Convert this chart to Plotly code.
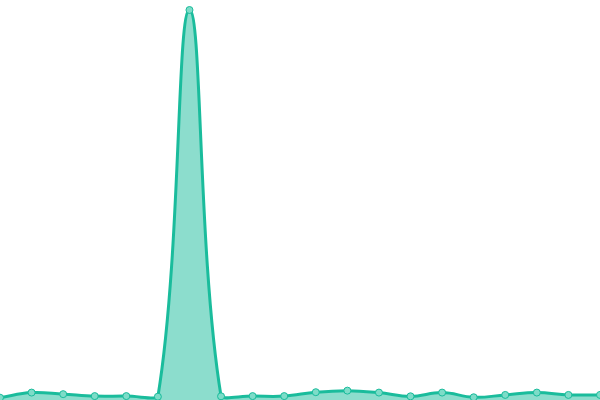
import math

import plotly.graph_objects as go

# x positions are just sample indices, the reference has no visible axes
sample_index = list(range(20))
signal_values = [0.6, 1.9, 1.5, 1.0, 1.0, 0.85, 100.0, 0.95, 1.0, 1.0,
                 2.0, 2.4, 1.9, 0.95, 1.9, 0.7, 1.3, 1.9, 1.3, 1.3]

line_color = "#1abc9c"
fill_color = "rgba(26, 188, 156, 0.5)"
WIDTH, HEIGHT = 600, 400
X_RANGE = [0, 19]
Y_RANGE = [0, 100 / 0.975]
TENSION = 0.4


def smooth_path(xs, ys, closed=False):
    # cardinal-style bezier (same idea as chart.js tension), worked out in
    # pixel space so the curve bulges the same way, then mapped back to data
    kx = WIDTH / (X_RANGE[1] - X_RANGE[0])
    ky = HEIGHT / (Y_RANGE[1] - Y_RANGE[0])
    pts = [(x * kx, y * ky) for x, y in zip(xs, ys)]
    n = len(pts)
    ctrl = []
    for i in range(n):
        prev = pts[max(i - 1, 0)]
        cur = pts[i]
        nxt = pts[min(i + 1, n - 1)]
        d01 = math.dist(prev, cur)
        d12 = math.dist(cur, nxt)
        total = d01 + d12
        fa = TENSION * d01 / total if total else 0
        fb = TENSION * d12 / total if total else 0
        dx, dy = nxt[0] - prev[0], nxt[1] - prev[1]
        ctrl.append(((cur[0] - fa * dx, cur[1] - fa * dy),
                     (cur[0] + fb * dx, cur[1] + fb * dy)))

    def to_data(p):
        return f"{p[0] / kx:.4f},{max(p[1], 0) / ky:.4f}"

    path = "M " + to_data(pts[0])
    for i in range(1, n):
        path += (" C " + to_data(ctrl[i - 1][1]) + " " + to_data(ctrl[i][0])
                 + " " + to_data(pts[i]))
    if closed:
        path += f" L {xs[-1]},0 L {xs[0]},0 Z"
    return path


fig = go.Figure()

# area under the curve, then the curve itself
fig.add_shape(
    type="path",
    path=smooth_path(sample_index, signal_values, closed=True),
    xref="x",
    yref="y",
    fillcolor=fill_color,
    line=dict(width=0),
    layer="below",
)
fig.add_shape(
    type="path",
    path=smooth_path(sample_index, signal_values),
    xref="x",
    yref="y",
    line=dict(color=line_color, width=3),
    layer="below",
)

fig.add_trace(
    go.Scatter(
        x=sample_index,
        y=signal_values,
        mode="markers",
        marker=dict(
            size=7,
            color="#7ddcc8",
            line=dict(color=line_color, width=1),
        ),
        cliponaxis=False,
        showlegend=False,
    )
)

fig.update_layout(
    width=WIDTH,
    height=HEIGHT,
    margin=dict(l=0, r=0, t=0, b=0),
    paper_bgcolor="white",
    plot_bgcolor="white",
    xaxis=dict(visible=False, range=X_RANGE),
    yaxis=dict(visible=False, range=Y_RANGE),
)

# drop the default body margin so the chart sits flush in the window
fig.write_html(
    "out.html",
    config={"displayModeBar": False},
    post_script="document.body.style.margin = '0'; document.body.style.overflow = 'hidden';",
)
